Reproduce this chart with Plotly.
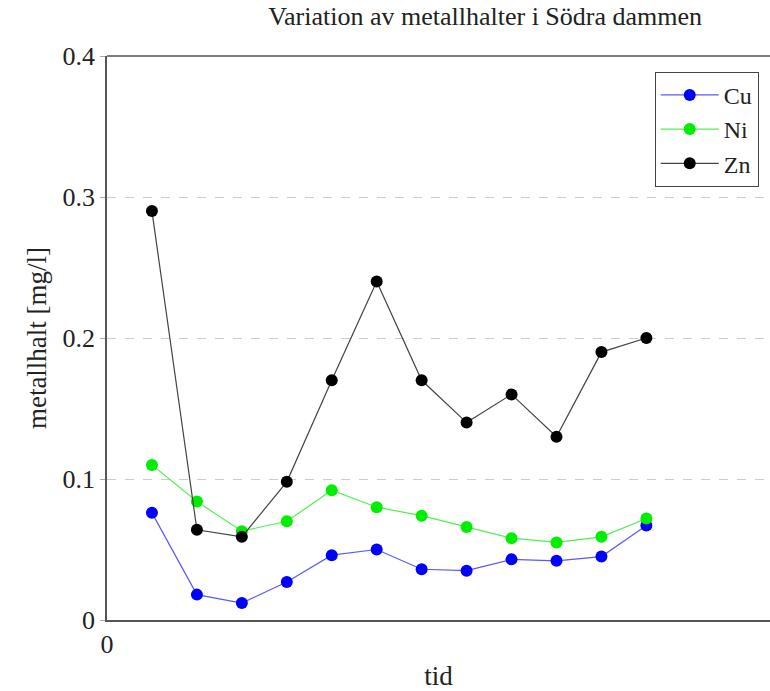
import plotly.graph_objects as go

tid = [1, 2, 3, 4, 5, 6, 7, 8, 9, 10, 11, 12]
cu = [0.076, 0.018, 0.012, 0.027, 0.046, 0.050, 0.036, 0.035, 0.043, 0.042, 0.045, 0.067]
ni = [0.110, 0.084, 0.063, 0.070, 0.092, 0.080, 0.074, 0.066, 0.058, 0.055, 0.059, 0.072]
zn = [0.290, 0.064, 0.059, 0.098, 0.170, 0.240, 0.170, 0.140, 0.160, 0.130, 0.190, 0.200]
series_names = ["Cu", "Ni", "Zn"]
y_ticks = [0, 0.1, 0.2, 0.3, 0.4]
y_tick_labels = ["0", "0.1", "0.2", "0.3", "0.4"]

FONT = "Liberation Serif"

fig = go.Figure()
styles = [
    ("rgba(60,60,255,0.85)", "#0000ff"),
    ("rgba(60,240,60,0.9)", "#00ee00"),
    ("#444444", "#000000"),
]
for name, vals, (lc, mc) in zip(series_names, [cu, ni, zn], styles):
    fig.add_trace(go.Scatter(
        x=tid, y=vals, name=name, mode="lines+markers",
        line=dict(color=lc, width=1.2),
        marker=dict(color=mc, size=12),
    ))

fig.update_layout(
    width=770, height=691,
    margin=dict(l=107, r=0, t=56, b=71),
    paper_bgcolor="white", plot_bgcolor="white",
    font=dict(family=FONT, size=26, color="#222222"),
    title=dict(text="Variation av metallhalter i Södra dammen", x=0.63, xref="container",
               xanchor="center", y=0.99, yanchor="top", font=dict(size=26)),
    legend=dict(x=0.983, y=0.972, xanchor="right", yanchor="top",
                bordercolor="#444444", borderwidth=1, bgcolor="white",
                itemwidth=58, font=dict(size=24)),
    xaxis=dict(range=[0, 14.75], tickvals=[0], ticktext=["0"], showgrid=False,
               zeroline=False, showline=True, linecolor="#555555", linewidth=1.5,
               ticks="", title=dict(text="tid", standoff=12, font=dict(size=27))),
    yaxis=dict(range=[0, 0.4], tickvals=y_ticks, ticktext=y_tick_labels,
               showgrid=True, gridcolor="#cccccc", griddash="dash", gridwidth=1,
               zeroline=False, showline=True, linecolor="#555555", linewidth=1.5,
               ticks="outside", ticklen=5, tickcolor="#aaaaaa",
               title=dict(text="metallhalt [mg/l]", standoff=8, font=dict(size=27))),
)
fig.add_shape(type="line", xref="paper", yref="paper", x0=0, x1=1, y0=1, y1=1,
              line=dict(color="#555555", width=1.5))
fig.write_html("out.html")
